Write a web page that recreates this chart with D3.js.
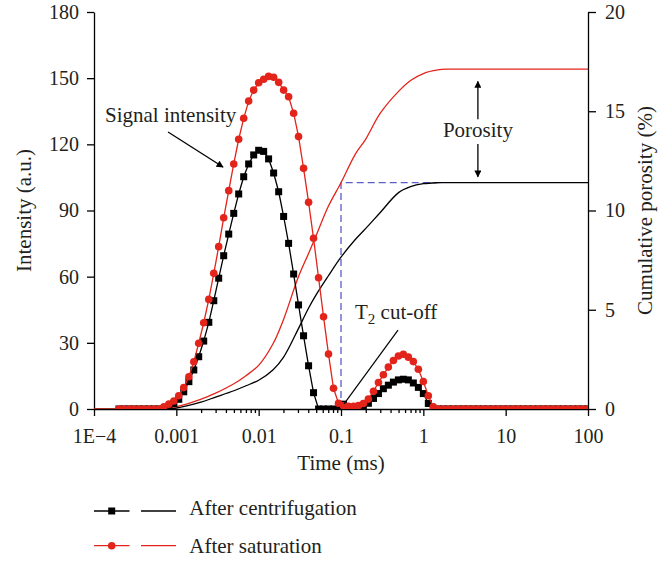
<!DOCTYPE html>
<html><head><meta charset="utf-8">
<script src="https://cdn.jsdelivr.net/npm/d3@7"></script>
<style>
body{margin:0;background:#fff}
text{font-family:"Liberation Serif","Times New Roman",serif;fill:#231f20}
</style>
</head><body>
<svg id="c" width="658" height="561"></svg>
<script>
// T2 relaxation times (ms) of the spectrum points
const times = [0.000201,0.000231,0.000266,0.000305,0.000351,0.000404,0.000464,0.000534,0.000614,0.000705,
0.000811,0.000933,0.00107,0.00123,0.00142,0.00163,0.00187,0.00215,0.00248,0.00285,
0.00327,0.00376,0.00433,0.00498,0.00572,0.00658,0.00756,0.0087,0.01,0.0115,
0.0132,0.0152,0.0175,0.0201,0.0231,0.0266,0.0305,0.0351,0.0404,0.0464,
0.0534,0.0614,0.0705,0.0811,0.0933,0.107,0.123,0.142,0.163,0.187,
0.215,0.248,0.285,0.327,0.376,0.433,0.498,0.572,0.658,0.756,
0.87,1,1.15,1.32,1.52,1.75,2.01,2.31,2.66,3.05,
3.51,4.04,4.64,5.34,6.14,7.05,8.11,9.33,10.7,12.3,
14.2,16.3,18.7,21.5,24.8,28.5,32.7,37.6,43.3,49.8,
57.2,65.8,75.6,87,100];
// Signal intensity (a.u.) after centrifugation
const centrifugation = [0,0,0,0,0,0,0,0,0,0,
1.0,2.5,4.4,7.8,12.4,17.7,23.7,30.8,39.3,49.1,
59.3,69.5,79.3,88.7,97.5,105.3,111.1,115.2,117.3,116.8,
113.4,107,98.5,87.3,75.1,61.2,47.2,33.2,19.6,7.4,
0,0,0,0,0,2.2,0.8,0,0.3,1.0,
2.6,4.8,7.0,9.2,10.8,12.2,13.2,13.5,13.2,11.8,
9.8,7.0,2.5,0,0,0,0,0,0,0,
0,0,0,0,0,0,0,0,0,0,
0,0,0,0,0,0,0,0,0,0,
0,0,0,0,0];
// Signal intensity (a.u.) after saturation
const saturation = [0,0,0,0,0,0,0,0,0,1.0,
2.2,3.6,6.0,9.7,14.6,21.4,29.8,39.1,49.7,61.5,
73.6,86.7,99.0,111.1,122.3,131.8,139.6,144.6,147.9,149.5,
150.8,150.4,148.1,144.6,141.6,134.1,123.5,109.1,93.7,77.4,
59.5,41.8,24.9,9.4,2.6,1.5,1.2,1.2,1.6,2.5,
4.5,8,12,15.5,19,22,24,24.8,23.5,21.5,
18,12.5,6,1,0,0,0,0,0,0,
0,0,0,0,0,0,0,0,0,0,
0,0,0,0,0,0,0,0,0,0,
0,0,0,0,0];
// Cumulative porosity (%)
const cumTimes = [0.0001,0.0005,0.001,0.002,0.003,0.005,0.007,0.01,0.015,0.02,0.03,0.04,0.05,0.07,0.1,0.15,0.2,0.3,0.5,0.7,1,1.5,2,5,100];
const cumCentrifugation = [0,0,0.05,0.35,0.6,0.92,1.17,1.45,1.98,2.6,4.0,5.05,5.76,6.7,7.65,8.55,9.1,9.9,10.9,11.2,11.35,11.4,11.4,11.4,11.4];
const cumSaturation = [0,0.02,0.12,0.5,0.8,1.27,1.68,2.2,3.3,4.5,6.6,7.8,8.75,10.2,11.4,12.85,13.6,14.9,16.0,16.55,16.9,17.08,17.12,17.12,17.12];

const xTicks = [1e-4,1e-3,1e-2,1e-1,1,10,100];
const xTickLabels = ["1E\u22124","0.001","0.01","0.1","1","10","100"];
const xMinorTicks = [0.002,0.003,0.004,0.005,0.006,0.007,0.008,0.009,
  0.02,0.03,0.04,0.05,0.06,0.07,0.08,0.09,
  0.2,0.3,0.4,0.5,0.6,0.7,0.8,0.9];
const yLeftTicks = [0,30,60,90,120,150,180];
const yRightTicks = [0,5,10,15,20];
const cutoff = 0.1;
const cutoffPorosity = 11.4;
const plateauStart = 1.65;
const seriesNames = ["After centrifugation","After saturation"];

const RED = "#e3241b", BLK = "#000", BLUE = "#5a5cc8", TXT = "#231f20";
const L = 94, R = 588, T = 12, B = 409;
const svg = d3.select("#c");
const x = d3.scaleLog().domain([1e-4,100]).range([L,R]);
const yL = d3.scaleLinear().domain([0,180]).range([B,T]);
const yR = d3.scaleLinear().domain([0,20]).range([B,T]);

const defs = svg.append("defs");
defs.append("clipPath").attr("id","plot").append("rect")
  .attr("x",L).attr("y",0).attr("width",R-L).attr("height",B);
const mk = defs.append("marker").attr("id","ah").attr("viewBox","0 0 10 10")
  .attr("refX",9).attr("refY",5).attr("markerWidth",8).attr("markerHeight",7)
  .attr("markerUnits","userSpaceOnUse").attr("orient","auto-start-reverse");
mk.append("path").attr("d","M0,0L10,5L0,10z").attr("fill","#000");

// axes
const fs = "20px";
const gx = svg.append("g").attr("transform",`translate(0,${B})`)
  .call(d3.axisBottom(x).tickValues(xTicks).tickSize(7).tickSizeOuter(0).tickPadding(6)
    .tickFormat((d,i)=>xTickLabels[i]));
svg.append("g").attr("transform",`translate(0,${B})`)
  .call(d3.axisBottom(x).tickValues(xMinorTicks).tickSize(4).tickSizeOuter(0).tickFormat(""))
  .select(".domain").remove();
const gl = svg.append("g").attr("transform",`translate(${L},0)`)
  .call(d3.axisLeft(yL).tickValues(yLeftTicks).tickSize(7).tickSizeOuter(0).tickPadding(8));
const gr = svg.append("g").attr("transform",`translate(${R},0)`)
  .call(d3.axisRight(yR).tickValues(yRightTicks).tickSize(8).tickSizeOuter(0).tickPadding(9));
svg.selectAll(".domain,.tick line").attr("stroke","#000").attr("stroke-width",1.3);
svg.selectAll(".tick text").style("font-size",fs).style("font-family","'Liberation Serif',serif").attr("fill",TXT);
gx.selectAll(".tick text").attr("dy","1.05em");

// axis titles
svg.append("text").attr("transform",`translate(31,${(T+B)/2}) rotate(-90)`)
  .attr("text-anchor","middle").style("font-size","21px").text("Intensity (a.u.)");
svg.append("text").attr("transform",`translate(652,${(T+B)/2}) rotate(-90)`)
  .attr("text-anchor","middle").style("font-size","21px").text("Cumulative porosity (%)");
svg.append("text").attr("x",(L+R)/2).attr("y",470)
  .attr("text-anchor","middle").style("font-size","21px").text("Time (ms)");

// cut-off dashed lines
svg.append("path").attr("d",`M${x(cutoff)},${yR(0)}V${yR(cutoffPorosity)}H${x(plateauStart)}`)
  .attr("fill","none").attr("stroke",BLUE).attr("stroke-width",1.3).attr("stroke-dasharray","7,4");

const plot = svg.append("g").attr("clip-path","url(#plot)");
// cumulative curves
const cumLine = d3.line().x((d,i)=>x(cumTimes[i])).curve(d3.curveCatmullRom.alpha(0.5));
plot.append("path").datum(cumCentrifugation).attr("d",cumLine.y(d=>yR(d)))
  .attr("fill","none").attr("stroke",BLK).attr("stroke-width",1.3);
plot.append("path").datum(cumSaturation).attr("d",cumLine.y(d=>yR(d)))
  .attr("fill","none").attr("stroke",RED).attr("stroke-width",1.3);

// spectra
const specLine = d3.line().x((d,i)=>x(times[i])).y(d=>yL(d));
plot.append("path").datum(centrifugation).attr("d",specLine)
  .attr("fill","none").attr("stroke",BLK).attr("stroke-width",1.3);
plot.selectAll("rect.sq").data(centrifugation).join("rect").attr("class","sq")
  .attr("x",(d,i)=>x(times[i])-3.5).attr("y",d=>yL(d)-3.5)
  .attr("width",7).attr("height",7).attr("fill",BLK);
plot.append("path").datum(saturation).attr("d",specLine)
  .attr("fill","none").attr("stroke",RED).attr("stroke-width",1.3);
plot.selectAll("circle.ci").data(saturation).join("circle").attr("class","ci")
  .attr("cx",(d,i)=>x(times[i])).attr("cy",d=>yL(d)).attr("r",3.8).attr("fill",RED);

// annotations
svg.append("text").attr("x",x(1.36e-4)).attr("y",yL(130.1)).style("font-size","21px").text("Signal intensity");
svg.append("line").attr("x1",x(7.93e-4)).attr("y1",yL(125.6)).attr("x2",x(3.69e-3)).attr("y2",yL(109.7))
  .attr("stroke","#000").attr("stroke-width",1.3).attr("marker-end","url(#ah)");

const pa = 4.6;
svg.append("line").attr("x1",x(pa)).attr("x2",x(pa)).attr("y1",yR(14.6)).attr("y2",yR(16.5))
  .attr("stroke","#000").attr("stroke-width",1.3).attr("marker-end","url(#ah)");
svg.append("line").attr("x1",x(pa)).attr("x2",x(pa)).attr("y1",yR(13.35)).attr("y2",yR(11.7))
  .attr("stroke","#000").attr("stroke-width",1.3).attr("marker-end","url(#ah)");
svg.append("text").attr("x",x(pa)).attr("y",yR(13.7)).attr("text-anchor","middle")
  .style("font-size","21px").text("Porosity");

svg.append("line").attr("x1",x(0.109)).attr("y1",yL(2.3)).attr("x2",x(0.4925)).attr("y2",yL(35.8))
  .attr("stroke","#000").attr("stroke-width",1.2);
const tc = svg.append("text").attr("x",x(0.148)).attr("y",yL(40.8)).style("font-size","21px");
tc.append("tspan").text("T");
tc.append("tspan").attr("dy",5).style("font-size","15px").text("2");
tc.append("tspan").attr("dy",-5).text(" cut-off");

// legend
const lg = svg.append("g");
const rows = [{y:511,c:BLK,sq:true},{y:545.7,c:RED,sq:false}];
rows.forEach((r,i)=>{
  lg.append("line").attr("x1",94).attr("x2",129.5).attr("y1",r.y).attr("y2",r.y).attr("stroke",r.c).attr("stroke-width",1.3);
  if(r.sq) lg.append("rect").attr("x",111.7-3.5).attr("y",r.y-3.5).attr("width",7).attr("height",7).attr("fill",r.c);
  else lg.append("circle").attr("cx",111.7).attr("cy",r.y).attr("r",3.8).attr("fill",r.c);
  lg.append("line").attr("x1",141).attr("x2",176).attr("y1",r.y).attr("y2",r.y).attr("stroke",r.c).attr("stroke-width",1.3);
  lg.append("text").attr("x",189.3).attr("y",r.y+4.3+ (i?3:0)).style("font-size","21px").text(seriesNames[i]);
});
</script>
</body></html>
